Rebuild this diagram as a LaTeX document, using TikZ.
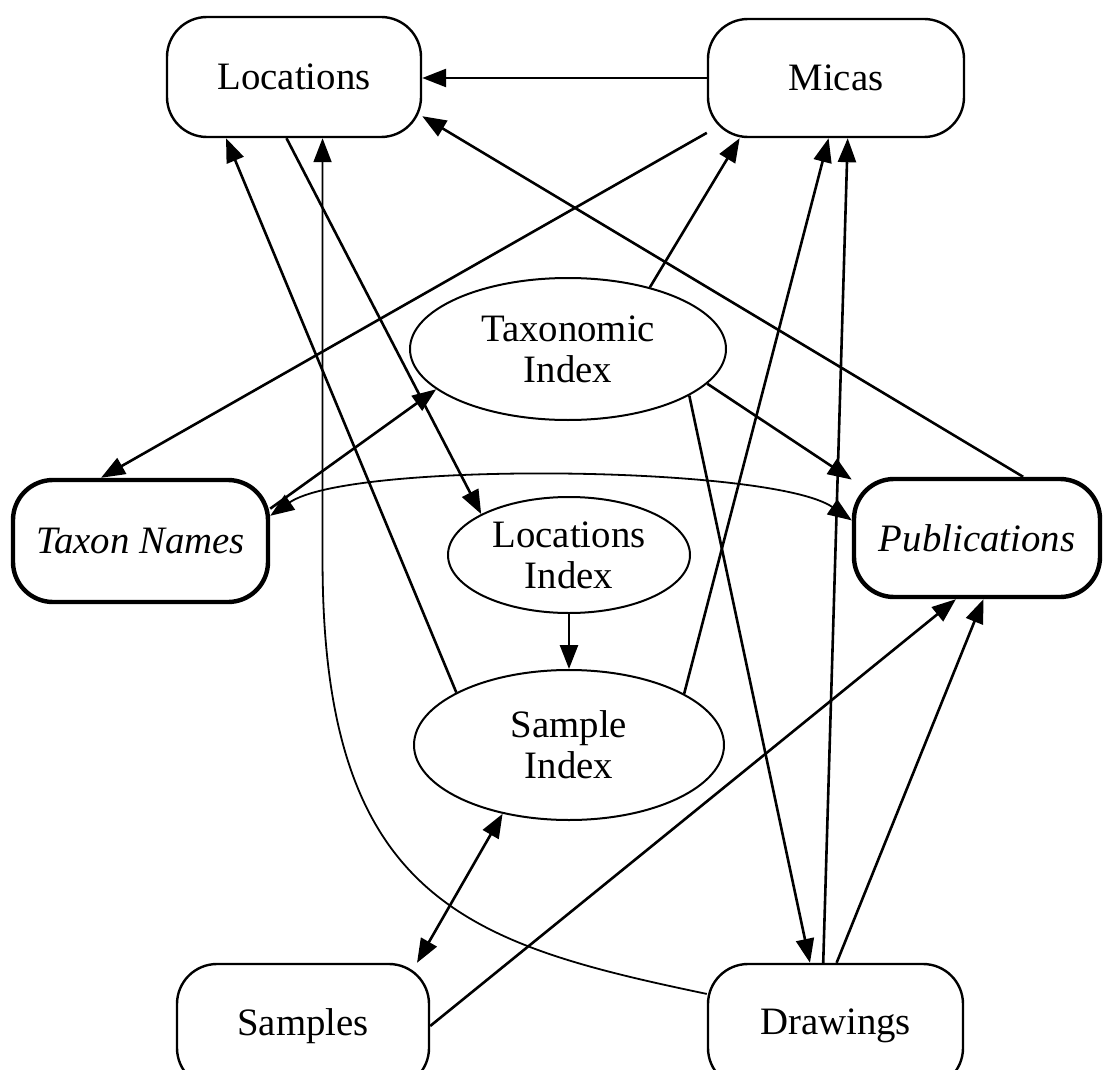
\documentclass[tikz,border=0pt]{standalone}
\usepackage{fontspec}
\setmainfont{Liberation Serif}
\usetikzlibrary{arrows.meta,shapes.geometric}

\begin{document}
\begin{tikzpicture}[
    x=0.5pt, y=-0.5pt,
    font=\fontsize{19.4}{20.5}\selectfont,
    box/.style={draw, line width=1.2pt, rounded corners=20pt, align=center, inner sep=0pt, minimum width=127pt, minimum height=60pt},
    thickbox/.style={box, line width=2.2pt, font=\fontsize{19.4}{20.5}\selectfont\itshape},
    idx/.style={draw, ellipse, line width=1pt, align=center, inner sep=0pt},
    arr/.style={-{Triangle[length=12pt,width=9pt]}, line width=1.3pt},
    dblarr/.style={{Triangle[length=12pt,width=9pt]}-{Triangle[length=12pt,width=9pt]}, line width=1.3pt},
    thinarr/.style={-{Triangle[length=12pt,width=9pt]}, line width=0.9pt},
    thindbl/.style={{Triangle[length=12pt,width=9pt]}-{Triangle[length=12pt,width=9pt]}, line width=0.9pt},
]
\clip (0,0) rectangle (1104,1070);

% Tables (top row)
\node[box] (locs) at (294,77) {Locations};
\node[box, minimum width=128pt, minimum height=59pt] (micas) at (836,78) {Micas};

% Tables (sides)
\node[thickbox, minimum width=127.5pt, minimum height=61pt] (taxon) at (140.5,541) {Taxon Names};
\node[thickbox, minimum width=123pt, minimum height=59pt] (pubs) at (977,538) {Publications};

% Tables (bottom row)
\node[box, minimum width=126pt, minimum height=62pt] (samples) at (303,1026) {Samples};
\node[box, minimum width=127.5pt, minimum height=62pt] (drawings) at (835.5,1026) {Drawings};

% Indexes
\node[idx, minimum width=158pt, minimum height=71pt] (taxidx) at (568,349) {Taxonomic\\Index};
\node[idx, minimum width=121pt, minimum height=58pt] (locidx) at (569,555) {Locations\\Index};
\node[idx, minimum width=155pt, minimum height=75pt] (sampidx) at (569,745) {Sample\\Index};

% Links into the top row
\draw[arr] (micas.west) -- (micas.west -| locs.east);
\draw[arr] (pubs.53) -- (locs.343);
\draw[arr] (sampidx.155) -- (locs.222);
\draw[arr] (taxidx.37) -- (micas.212);
\draw[arr] (sampidx.24) -- (micas.263);
\draw[arr] (drawings.101) -- (micas.281);
\draw[thinarr] (drawings.166) .. controls +(-239,-50) and +(0,340) .. (locs.295 |- 0,560) -- (locs.295);

% Links from the top row
\draw[arr] (micas.203) -- (taxon.122);
\draw[arr] (locs.263) -- (locidx.155);

% Index links
\draw[arr] (taxon.14) -- (taxidx.197);
\draw[arr] (taxidx.346) -- (pubs.155);
\draw[arr] (taxidx.339) -- (drawings.112);
\draw[arr] (locidx) -- (sampidx);
\draw[dblarr] (sampidx.226) -- (samples.29);
\draw[thindbl] (taxon.11) .. controls +(80,-55) and +(-80,-55) .. (pubs.172);

% Links into publications
\draw[arr] (samples.east) -- (pubs.251);
\draw[arr] (drawings.89) -- (pubs.276);
\end{tikzpicture}
\end{document}
